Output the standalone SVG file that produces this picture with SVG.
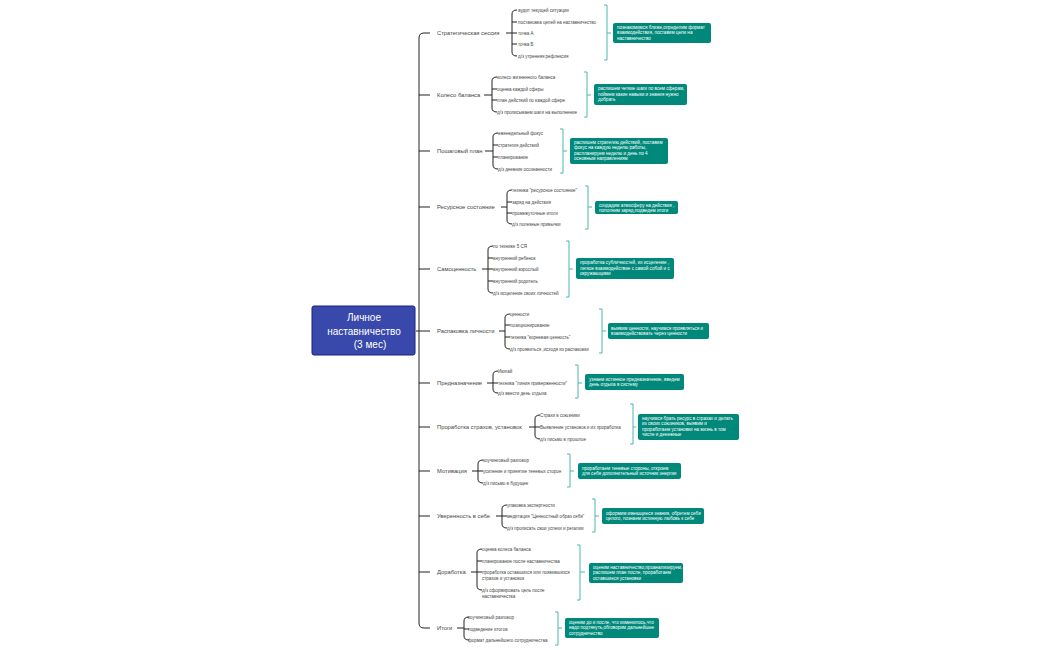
<svg xmlns="http://www.w3.org/2000/svg" width="1050" height="650" viewBox="0 0 1050 650">
<style>
.lbl{font-family:"Liberation Sans",Arial,sans-serif;font-size:5.8px;fill:#444}
.leaf{font-family:"Liberation Sans",Arial,sans-serif;font-size:4.5px;fill:#444}
.sum{font-family:"Liberation Sans",Arial,sans-serif;font-size:4.6px;fill:#fff}
.ctr{font-family:"Liberation Sans",Arial,sans-serif;font-size:10px;fill:#fff;text-anchor:middle}
.ln{stroke:#222;fill:none;stroke-width:1}
.br{stroke:#4db6ac;fill:none;stroke-width:1}
.box{fill:#00897b}
</style>
<rect width="1050" height="650" fill="#fff"/>
<g id="connectors">
<path class="ln" d="M430,33 H424 Q419,33 419,38 V623 Q419,628 424,628 H430"/>
<path class="ln" d="M416,331 H430 M419,95 H430 M419,151 H430 M419,207 H430 M419,269 H430 M419,383 H430 M419,427 H430 M419,471 H430 M419,516 H430 M419,572 H430"/>
<path class="ln" d="M506,33 H512 M517,10 Q512,10 512,14 V52 Q512,56 517,56 M512,22 H517 M512,33 H517 M512,44 H517"/>
<path class="br" d="M604,5 H607 V60 H604 M607,33 H611"/>
<path class="ln" d="M484,95 H492 M497,77 Q492,77 492,81 V108 Q492,112 497,112 M492,89 H497 M492,100 H497"/>
<path class="br" d="M584,72 H587 V117 H584 M587,95 H591"/>
<path class="ln" d="M485,151 H493 M498,133 Q493,133 493,137 V165 Q493,169 498,169 M493,145 H498 M493,157 H498"/>
<path class="br" d="M560,129 H563 V173 H560 M563,151 H567"/>
<path class="ln" d="M501,207 H507 M512,190 Q507,190 507,194 V220 Q507,224 512,224 M507,202 H512 M507,213 H512"/>
<path class="br" d="M585,186 H588 V229 H585 M588,207 H592"/>
<path class="ln" d="M482,269 H488 M493,246 Q488,246 488,250 V289 Q488,293 493,293 M488,258 H493 M488,269 H493 M488,281 H493"/>
<path class="br" d="M566,241 H569 V297 H566 M569,269 H573"/>
<path class="ln" d="M499,331 H505 M510,314 Q505,314 505,318 V345 Q505,349 510,349 M505,325 H510 M505,337 H510"/>
<path class="br" d="M599,309 H602 V353 H599 M602,331 H606"/>
<path class="ln" d="M487,383 H493 M498,371 Q493,371 493,375 V389 Q493,393 498,393 M493,383 H498"/>
<path class="br" d="M575,365 H578 V398 H575 M578,383 H582"/>
<path class="ln" d="M529,427 H535 M540,415 Q535,415 535,419 V435 Q535,439 540,439 M535,427 H540"/>
<path class="br" d="M630,404 H633 V444 H630 M633,427 H636"/>
<path class="ln" d="M472,471 H478 M483,460 Q478,460 478,464 V479 Q478,483 483,483 M478,471 H483"/>
<path class="br" d="M567,454 H570 V487 H567 M570,471 H574"/>
<path class="ln" d="M496,516 H502 M507,505 Q502,505 502,509 V524 Q502,528 507,528 M502,516 H507"/>
<path class="br" d="M592,499 H595 V532 H592 M595,516 H599"/>
<path class="ln" d="M471,572 H477 M482,549 Q477,549 477,553 V586 Q477,590 482,590 M477,561 H482 M477,572 H482"/>
<path class="br" d="M577,545 H580 V600 H577 M580,572 H585"/>
<path class="ln" d="M457,628 H464 M469,617 Q464,617 464,621 V636 Q464,640 469,640 M464,629 H469"/>
<path class="br" d="M555,612 H558 V645 H555 M558,628 H562"/>
</g>
<g id="center">
<rect x="312" y="306" width="103" height="49" rx="2" fill="#3949ab" stroke="#1a237e" stroke-width="1"/>
<text class="ctr" x="364" y="321">Личное</text>
<text class="ctr" x="364" y="335">наставничество</text>
<text class="ctr" x="370" y="348">(3 мес)</text>
</g>
<g id="b1">
<text class="lbl" x="437" y="35.1">Стратегическая сессия</text>
<text class="leaf" x="518" y="11.6">аудит текущей ситуации</text>
<text class="leaf" x="518" y="23.6">постановка целей на наставничество</text>
<text class="leaf" x="518" y="34.6">точка А</text>
<text class="leaf" x="518" y="45.6">точка Б</text>
<text class="leaf" x="518" y="57.6">д/з утренняя рефлексия</text>
<rect class="box" x="613" y="23" width="98" height="20" rx="2"/>
<text class="sum" x="617" y="28.5">познакомимся ближе,определим формат</text>
<text class="sum" x="617" y="34">взаимодействия, поставим цели на</text>
<text class="sum" x="617" y="39.5">наставничество</text>
</g>
<g id="b2">
<text class="lbl" x="437" y="97.1">Колесо баланса</text>
<text class="leaf" x="497" y="78.6">колесо жизненного баланса</text>
<text class="leaf" x="497" y="90.6">оценка каждой сферы</text>
<text class="leaf" x="497" y="101.6">план действий по каждой сфере</text>
<text class="leaf" x="497" y="113.6">д/з прописываем шаги на выполнение</text>
<rect class="box" x="594" y="84" width="93" height="21" rx="2"/>
<text class="sum" x="598" y="90">распишем четкие шаги по всем сферам,</text>
<text class="sum" x="598" y="95.5">поймем какие навыки и знания нужно</text>
<text class="sum" x="598" y="101">добрать</text>
</g>
<g id="b3">
<text class="lbl" x="437" y="153.1">Пошаговый план</text>
<text class="leaf" x="498" y="134.6">еженедельный фокус</text>
<text class="leaf" x="498" y="146.6">стратегия действий</text>
<text class="leaf" x="498" y="158.6">планирование</text>
<text class="leaf" x="498" y="170.6">д/з дневник осознанности</text>
<rect class="box" x="570" y="138" width="98" height="26" rx="2"/>
<text class="sum" x="574" y="143.5">распишем стратегию действий, поставим</text>
<text class="sum" x="574" y="149">фокус на каждую неделю работы,</text>
<text class="sum" x="574" y="154.5">распланируем неделю и день по 4</text>
<text class="sum" x="574" y="160">основным направлениям</text>
</g>
<g id="b4">
<text class="lbl" x="437" y="209.1">Ресурсное состояние</text>
<text class="leaf" x="512" y="191.6">техника "ресурсное состояние"</text>
<text class="leaf" x="512" y="203.6">заряд на действия</text>
<text class="leaf" x="512" y="214.6">промежуточные итоги</text>
<text class="leaf" x="512" y="225.6">д/з полезные привычки</text>
<rect class="box" x="595" y="201" width="83" height="13" rx="2"/>
<text class="sum" x="599" y="206.5">создадим атмосферу на действия ,</text>
<text class="sum" x="599" y="212">пополним заряд,подведем итоги</text>
</g>
<g id="b5">
<text class="lbl" x="437" y="271.1">Самоценность</text>
<text class="leaf" x="493" y="247.6">по технике 5 СЯ</text>
<text class="leaf" x="493" y="259.6">внутренний ребенок</text>
<text class="leaf" x="493" y="270.6">внутренний взрослый</text>
<text class="leaf" x="493" y="282.6">внутренний родитель</text>
<text class="leaf" x="493" y="294.6">д/з исцеление своих личностей</text>
<rect class="box" x="576" y="258" width="98" height="21" rx="2"/>
<text class="sum" x="580" y="264">проработка субличностей, их исцеление ,</text>
<text class="sum" x="580" y="269.5">легкое взаимодействие с самой собой и с</text>
<text class="sum" x="580" y="275">окружающими</text>
</g>
<g id="b6">
<text class="lbl" x="437" y="333.1">Распаковка личности</text>
<text class="leaf" x="510" y="315.6">ценности</text>
<text class="leaf" x="510" y="326.6">позиционирование</text>
<text class="leaf" x="510" y="338.6">техника "корневая ценность"</text>
<text class="leaf" x="510" y="350.6">д/з проявиться ,исходя из распаковки</text>
<rect class="box" x="608" y="323" width="101" height="16" rx="2"/>
<text class="sum" x="611" y="329.5">выявим ценности, научимся проявляться и</text>
<text class="sum" x="611" y="335">взаимодействовать через ценности</text>
</g>
<g id="b7">
<text class="lbl" x="437" y="385.1">Предназначение</text>
<text class="leaf" x="498" y="372.6">Икигай</text>
<text class="leaf" x="498" y="384.6">техника "линия приверженности"</text>
<text class="leaf" x="498" y="394.6">д/з ввести день отдыха</text>
<rect class="box" x="585" y="374" width="99" height="16" rx="2"/>
<text class="sum" x="589" y="380.5">узнаем истинное предназначение, введем</text>
<text class="sum" x="589" y="386">день отдыха в систему</text>
</g>
<g id="b8">
<text class="lbl" x="437" y="429.1">Проработка страхов, установок</text>
<text class="leaf" x="540" y="416.6">Страхи в союзники</text>
<text class="leaf" x="540" y="428.6">Выявление установок и их проработка</text>
<text class="leaf" x="540" y="440.6">д/з письмо в прошлое</text>
<rect class="box" x="638" y="414" width="101" height="26" rx="2"/>
<text class="sum" x="642" y="419.5">научимся брать ресурс в страхах и делать</text>
<text class="sum" x="642" y="425">из своих союзников, выявим и</text>
<text class="sum" x="642" y="430.5">проработаем установки на жизнь в том</text>
<text class="sum" x="642" y="436">числе и денежные</text>
</g>
<g id="b9">
<text class="lbl" x="437" y="473.1">Мотивация</text>
<text class="leaf" x="483" y="461.6">коучинговый разговор</text>
<text class="leaf" x="483" y="472.6">усиление и принятие теневых сторон</text>
<text class="leaf" x="483" y="484.6">д/з письмо в будущее</text>
<rect class="box" x="578" y="463" width="103" height="16" rx="2"/>
<text class="sum" x="582" y="469.5">проработаем теневые стороны, откроем</text>
<text class="sum" x="582" y="475">для себя дополнительный источник энергии</text>
</g>
<g id="b10">
<text class="lbl" x="437" y="518.1">Уверенность в себе</text>
<text class="leaf" x="507" y="506.6">упаковка экспертности</text>
<text class="leaf" x="507" y="517.6">медитация "Ценностный образ себя"</text>
<text class="leaf" x="507" y="529.6">д/з прописать свои успехи и регалии</text>
<rect class="box" x="602" y="508" width="102" height="16" rx="2"/>
<text class="sum" x="606" y="514.5">оформим имеющиеся знания, обретем себя</text>
<text class="sum" x="606" y="520">целого, познаем истинную любовь к себе</text>
</g>
<g id="b11">
<text class="lbl" x="437" y="574.1">Доработка</text>
<text class="leaf" x="482" y="550.6">оценка колеса баланса</text>
<text class="leaf" x="482" y="562.6">планирование после наставничества</text>
<text class="leaf" x="482" y="573.6">проработка оставшихся или появившихся</text>
<text class="leaf" x="482" y="579.6">страхов и установок</text>
<text class="leaf" x="482" y="591.6">д/з сформировать цель после</text>
<text class="leaf" x="482" y="597.6">наставничества</text>
<rect class="box" x="589" y="563" width="94" height="20" rx="2"/>
<text class="sum" x="593" y="568.5">оценим наставничество,проанализируем,</text>
<text class="sum" x="593" y="574">распишем план после, проработаем</text>
<text class="sum" x="593" y="579.5">оставшиеся установки</text>
</g>
<g id="b12">
<text class="lbl" x="437" y="630.1">Итоги</text>
<text class="leaf" x="468" y="618.6">коучинговый разговор</text>
<text class="leaf" x="468" y="630.6">подведение итогов</text>
<text class="leaf" x="468" y="641.6">формат дальнейшего сотрудничества</text>
<rect class="box" x="565" y="618" width="94" height="20" rx="2"/>
<text class="sum" x="569" y="623.5">оценим до и после, что изменилось,что</text>
<text class="sum" x="569" y="629">надо подтянуть,обговорим дальнейшее</text>
<text class="sum" x="569" y="634.5">сотрудничество</text>
</g>
</svg>
